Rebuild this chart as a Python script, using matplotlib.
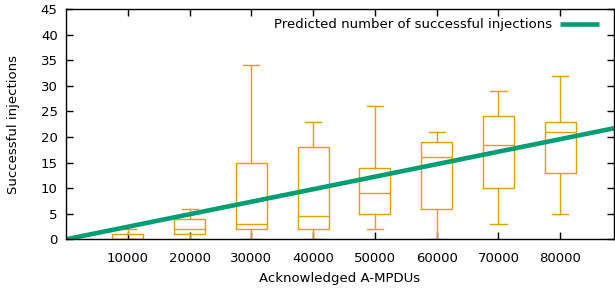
import matplotlib
matplotlib.use("Agg")
import matplotlib.pyplot as plt
import numpy as np

positions = [10000, 20000, 30000, 40000, 50000, 60000, 70000, 80000]
whislo = [0, 0, 0, 0, 2, 0, 3, 5]
q1 = [0, 1, 2, 2, 5, 6, 10, 13]
med = [0, 2, 3, 4.5, 9, 16, 18.5, 21]
q3 = [1, 4, 15, 18, 14, 19, 24, 23]
whishi = [2, 6, 34, 23, 26, 21, 29, 32]

x_max = 88700
slope = 21.7 / 88700  # predicted injections per acknowledged A-MPDU
line_x = [0, x_max]

orange = "#E69F00"
green = "#009E73"

fig = plt.figure(figsize=(6.15, 2.93), dpi=100)
ax = fig.add_axes([66/615, 53.7/293, 548/615, 230.3/293])

stats = []
for i in range(len(positions)):
    stats.append(dict(whislo=whislo[i], q1=q1[i], med=med[i], q3=q3[i],
                      whishi=whishi[i], fliers=[]))
style = dict(color=orange, linewidth=1.0)
ax.bxp(stats, positions=positions, widths=5000, capwidths=2600,
       boxprops=style, whiskerprops=style, capprops=style,
       medianprops=style, showfliers=False, manage_ticks=False)

ax.plot(line_x, [slope * v for v in line_x], color=green, linewidth=3.3,
        label="Predicted number of successful injections", solid_capstyle="butt")

ax.set_xlim(0, x_max)
ax.set_ylim(0, 45)
ax.set_xticks(positions)
ax.set_xticklabels([str(p) for p in positions])
ax.set_yticks(np.arange(0, 46, 5))
ax.tick_params(direction="in", length=5, width=1, top=True, right=True,
               labelsize=9.5, colors="black", pad=6)
ax.tick_params(axis="x", pad=9)
for s in ax.spines.values():
    s.set_linewidth(1.0)
    s.set_color("black")

ax.set_xlabel("Acknowledged A-MPDUs", fontsize=9.5, labelpad=5)
ax.set_ylabel("Successful injections", fontsize=9.5)
ax.yaxis.set_label_coords(-0.084, 0.5)

leg = ax.legend(loc="upper right", frameon=False, markerfirst=False,
                fontsize=9.5, handlelength=3.0, handletextpad=0.6,
                borderaxespad=0.3, bbox_to_anchor=(0.99, 1.0))

fig.savefig("out.png", dpi=100)
